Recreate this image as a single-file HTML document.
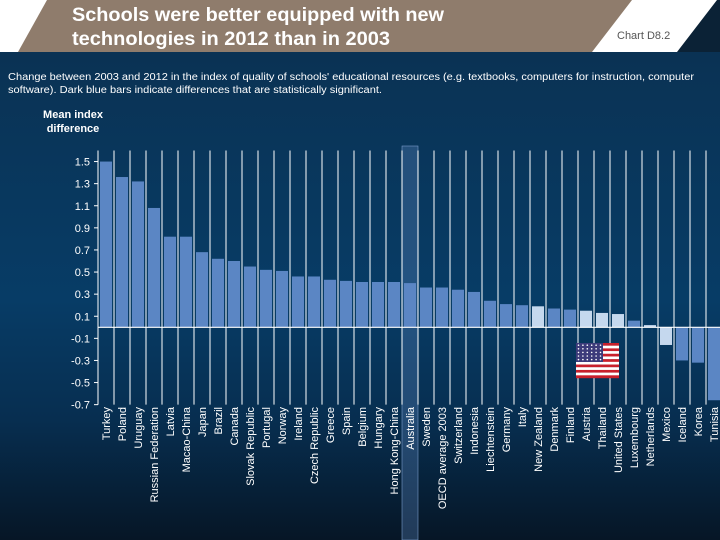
<!DOCTYPE html>
<html><head><meta charset="utf-8">
<style>
html,body{margin:0;padding:0}
body{width:720px;height:540px;overflow:hidden;position:relative;font-family:"Liberation Sans",sans-serif;
background:linear-gradient(to bottom,#0b3050 0px,#073c66 300px,#072e50 420px,#061626 540px);}
</style></head>
<body>
<svg width="720" height="540" style="position:absolute;left:0;top:0">
  <rect x="0" y="0" width="720" height="52" fill="#ffffff"/>
  <polygon points="47,0 632,0 592,52 18,52" fill="#8f7c6c"/>
  <polygon points="717,0 720,0 720,52 677,52" fill="#0b2236"/>
  <text x="72" y="21" fill="#fff" font-size="19" font-weight="bold" textLength="372" lengthAdjust="spacingAndGlyphs">Schools were better equipped with new</text>
  <text x="72" y="45" fill="#fff" font-size="19" font-weight="bold" textLength="318" lengthAdjust="spacingAndGlyphs">technologies in 2012 than in 2003</text>
  <text x="617" y="39" fill="#555" font-size="11">Chart D8.2</text>
  <text x="8" y="80" fill="#fff" font-size="10" textLength="686" lengthAdjust="spacingAndGlyphs">Change between 2003 and 2012 in the index of quality of schools' educational resources (e.g. textbooks, computers for instruction, computer</text>
  <text x="8" y="93" fill="#fff" font-size="10" textLength="374" lengthAdjust="spacingAndGlyphs">software). Dark blue bars indicate differences that are statistically significant.</text>
  <text x="73" y="118" fill="#fff" font-size="11" font-weight="bold" text-anchor="middle">Mean index</text>
  <text x="73" y="132" fill="#fff" font-size="11" font-weight="bold" text-anchor="middle">difference</text>
  <g id="plot"></g>
</svg>
<script>
const categories=["Turkey","Poland","Uruguay","Russian Federation","Latvia","Macao-China","Japan","Brazil","Canada","Slovak Republic","Portugal","Norway","Ireland","Czech Republic","Greece","Spain","Belgium","Hungary","Hong Kong-China","Australia","Sweden","OECD average 2003","Switzerland","Indonesia","Liechtenstein","Germany","Italy","New Zealand","Denmark","Finland","Austria","Thailand","United States","Luxembourg","Netherlands","Mexico","Iceland","Korea","Tunisia"];
const values=[1.50,1.36,1.32,1.08,0.82,0.82,0.68,0.62,0.60,0.55,0.52,0.51,0.46,0.46,0.43,0.42,0.41,0.41,0.41,0.40,0.36,0.36,0.34,0.32,0.24,0.21,0.20,0.19,0.17,0.16,0.15,0.13,0.12,0.06,0.02,-0.16,-0.30,-0.32,-0.66];
const sig=[1,1,1,1,1,1,1,1,1,1,1,1,1,1,1,1,1,1,1,1,1,1,1,1,1,1,1,0,1,1,0,0,0,1,0,0,1,1,1];
const tickLabels=["1.5","1.3","1.1","0.9","0.7","0.5","0.3","0.1","-0.1","-0.3","-0.5","-0.7"];
const tickValues=[1.5,1.3,1.1,0.9,0.7,0.5,0.3,0.1,-0.1,-0.3,-0.5,-0.7];
const NS="http://www.w3.org/2000/svg";
const g=document.getElementById('plot');
const x0=98,bw=16,zeroY=327.3,pxPer=110.5;
function yS(v){return zeroY-v*pxPer;}
function xS(i){return x0+i*bw;}
function mk(t,a){const e=document.createElementNS(NS,t);for(const k in a)e.setAttribute(k,a[k]);g.appendChild(e);return e;}
const yTop=yS(1.6),yBot=yS(-0.7);
const hi=categories.indexOf("Australia");
let h=mk('rect',{x:xS(hi),y:146,width:bw,height:394,fill:'#5a82b8','fill-opacity':0.35,stroke:'#7a9cc8','stroke-width':0.6});


categories.forEach((c,i)=>{
  const v=values[i];
  const y1=Math.min(yS(v),zeroY),hh=Math.abs(yS(v)-zeroY);
  const r=mk('rect',{x:xS(i)+2,y:y1,width:bw-4,height:hh,fill:sig[i]?'#5b86c4':'#c5d8ee'});
  
  
  const t=mk('text',{x:0,y:0,fill:'#fff','font-size':11,'text-anchor':'end',transform:'translate('+(xS(i)+bw/2+4)+',407) rotate(-90)'});
  t.textContent=c;
  
  
});
for(let i=0;i<=categories.length;i++){
  const l=mk('line',{x1:xS(i),x2:xS(i),y1:yTop,y2:yBot,stroke:'#fff','stroke-width':1});
  
  
}
const ax=mk('line',{x1:x0,x2:x0,y1:yTop,y2:yBot,stroke:'#fff','stroke-width':1});


const zl=mk('line',{x1:x0,x2:720,y1:zeroY,y2:zeroY,stroke:'#fff','stroke-width':1.2});


tickValues.forEach((v,i)=>{
  const t=mk('text',{x:90,y:yS(v)+4,fill:'#fff','font-size':11,'text-anchor':'end'});
  t.textContent=tickLabels[i];
  
  
  const tk=mk('line',{x1:x0-4,x2:x0,y1:yS(v),y2:yS(v),stroke:'#fff'});
  
  
});
const fx=576,fy=343;
const fl=document.createElementNS(NS,'g');


g.appendChild(fl);
for(let s=0;s<13;s++){const r=document.createElementNS(NS,'rect');r.setAttribute('x',fx);r.setAttribute('y',fy+s*35/13);r.setAttribute('width',43);r.setAttribute('height',35/13+0.2);r.setAttribute('fill',s%2?'#ffffff':'#c8202c');fl.appendChild(r);}
const cn=document.createElementNS(NS,'rect');cn.setAttribute('x',fx);cn.setAttribute('y',fy);cn.setAttribute('width',27);cn.setAttribute('height',19);cn.setAttribute('fill','#3c3b7a');fl.appendChild(cn);
for(let r=0;r<5;r++)for(let c=0;c<6;c++){const d=document.createElementNS(NS,'circle');d.setAttribute('cx',fx+2.5+c*4.4);d.setAttribute('cy',fy+2.2+r*3.6);d.setAttribute('r',0.8);d.setAttribute('fill','#fff');fl.appendChild(d);}
</script>
</body></html>
